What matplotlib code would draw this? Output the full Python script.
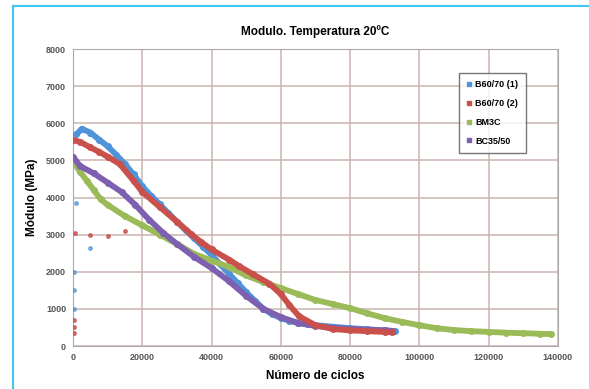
import matplotlib
matplotlib.use("Agg")
import matplotlib.pyplot as plt
from matplotlib.lines import Line2D

plt.rcParams['font.family'] = ['Liberation Sans', 'DejaVu Sans']

# módulo (MPa) frente al número de ciclos, ensayo a 20ºC
b1_ciclos = [1000, 2500, 5000, 7500, 10000, 12500, 15000, 17500, 20000, 22500,
             25000, 27500, 30000, 32500, 35000, 37500, 40000, 42500, 45000, 47500,
             50000, 52500, 55000, 57500, 60000, 62500, 65000, 67500, 70000, 75000,
             80000, 85000, 90000, 93000]
b1_modulo = [5700, 5850, 5750, 5560, 5380, 5150, 4900, 4620, 4300, 4050,
             3820, 3580, 3350, 3120, 2900, 2680, 2450, 2200, 1950, 1700,
             1450, 1220, 1000, 860, 750, 680, 620, 590, 560, 520,
             480, 450, 420, 400]

b2_ciclos = [0, 2000, 5000, 7500, 10000, 13500, 17500, 20000, 25000, 30000,
             34000, 37000, 40000, 45000, 48000, 52000, 56700, 60000, 62500, 65300,
             70000, 75000, 80000, 85000, 90000, 92000]
b2_modulo = [5550, 5500, 5350, 5230, 5100, 4900, 4450, 4150, 3750, 3350,
             3020, 2800, 2600, 2330, 2150, 1930, 1680, 1400, 1100, 800,
             560, 460, 420, 400, 380, 370]

bm3c_ciclos = [500, 2000, 4000, 6000, 8000, 10000, 15000, 20000, 25000, 30000,
               35000, 40000, 45000, 50000, 55000, 60000, 65000, 70000, 75000, 80000,
               85000, 90000, 95000, 100000, 105000, 110000, 115000, 120000, 125000,
               130000, 135000, 138000]
bm3c_modulo = [4900, 4700, 4450, 4200, 3950, 3800, 3500, 3250, 3000, 2750,
               2480, 2300, 2130, 1900, 1720, 1560, 1400, 1240, 1130, 1020,
               880, 750, 650, 560, 480, 430, 400, 380, 360,
               345, 330, 320]

bc_ciclos = [0, 2000, 6000, 10000, 14000, 18000, 22000, 26000, 30000, 35000,
             40000, 45000, 50000, 55000, 60000, 65000, 70000, 75000, 80000, 85000,
             90000, 92000]
bc_modulo = [5100, 4850, 4650, 4400, 4150, 3800, 3400, 3050, 2750, 2400,
             2100, 1750, 1350, 1000, 780, 620, 540, 490, 460, 440,
             420, 410]

# lecturas sueltas al inicio del ensayo
b1_sueltos_x = [1000, 300, 300, 300, 5000]
b1_sueltos_y = [3850, 2000, 1500, 1000, 2650]
b2_sueltos_x = [500, 5000, 10000, 15000, 300, 300, 300]
b2_sueltos_y = [3050, 3000, 2950, 3100, 700, 500, 350]

series = [
    ("B60/70 (1)", b1_ciclos, b1_modulo, "#4f93d8"),
    ("BM3C", bm3c_ciclos, bm3c_modulo, "#9bbb59"),
    ("BC35/50", bc_ciclos, bc_modulo, "#7d60b0"),
    ("B60/70 (2)", b2_ciclos, b2_modulo, "#c9504b"),
]
orden_leyenda = ["B60/70 (1)", "B60/70 (2)", "BM3C", "BC35/50"]

fig = plt.figure(figsize=(5.89, 3.89), dpi=100)
ax = fig.add_axes([0.124, 0.1105, 0.823, 0.7635])

colores = {}
for nombre, x, y, c in series:
    colores[nombre] = c
    ax.plot(x, y, color=c, lw=4.2, marker='o', ms=4, solid_capstyle='round', zorder=3)

ax.plot(b1_sueltos_x, b1_sueltos_y, 'o', color=colores["B60/70 (1)"], ms=2.5, alpha=0.7, zorder=3)
ax.plot(b2_sueltos_x, b2_sueltos_y, 'o', color=colores["B60/70 (2)"], ms=2.5, alpha=0.8, zorder=3)

ax.set_xlim(0, 140000)
ax.set_ylim(0, 8000)
ax.set_xticks(range(0, 140001, 20000))
ax.set_yticks(range(0, 8001, 1000))
ax.grid(True, color="#c9b5b0", lw=1.1)
ax.set_axisbelow(True)
ax.tick_params(length=0, labelsize=6.5, colors="#555555", pad=5)
for lab in ax.get_xticklabels() + ax.get_yticklabels():
    lab.set_fontweight('bold')
for s in ax.spines.values():
    s.set_color("#b0a8a6")

ax.set_xlabel("Número de ciclos", fontsize=8.5, fontweight='bold', labelpad=6)
ax.set_ylabel("Módulo (MPa)", fontsize=8.5, fontweight='bold', labelpad=6)
fig.text(0.535, 0.92, "Modulo. Temperatura 20ºC", ha='center', va='center',
         fontsize=8.5, fontweight='bold')

handles = [Line2D([], [], ls='none', marker='s', ms=3, color=colores[n]) for n in orden_leyenda]
leg = ax.legend(handles, orden_leyenda, loc='upper left', bbox_to_anchor=(0.772, 0.825),
                bbox_transform=fig.transFigure, fontsize=6.5, frameon=True, fancybox=False,
                handlelength=0.6, handletextpad=0.4, labelspacing=1.1, borderpad=0.8)
leg.get_frame().set_edgecolor("#555555")
leg.get_frame().set_linewidth(1.0)
for t in leg.get_texts():
    t.set_fontweight('bold')

# marco celeste de la figura
fig.add_artist(Line2D([13 / 589, 1], [1 - 6 / 389, 1 - 6 / 389], color="#3fc6f2", lw=1.5))
fig.add_artist(Line2D([13 / 589, 13 / 589], [0, 1 - 6 / 389], color="#3fc6f2", lw=1.5))

fig.savefig("out.png", dpi=100)
